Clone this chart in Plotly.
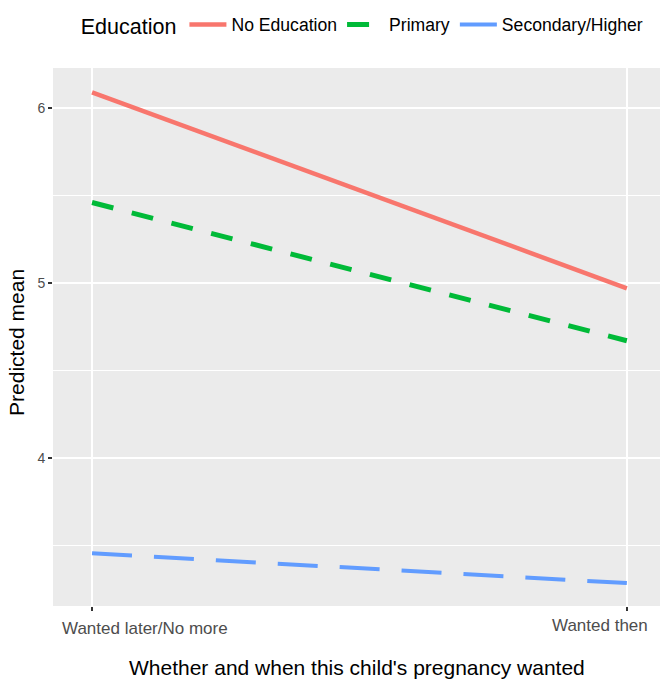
import plotly.graph_objects as go

categories = ["Wanted later/No more", "Wanted then"]
no_education = [6.09, 4.97]
primary = [5.46, 4.67]
secondary = [3.455, 3.285]
series_names = ["No Education", "Primary", "Secondary/Higher"]
y_ticks = [4, 5, 6]
y_minor = [3.5, 4.5, 5.5]
x_title = "Whether and when this child's pregnancy wanted"
y_title = "Predicted mean"
legend_title = "Education"

x_pos = list(range(len(categories)))
colors = ["#F8766D", "#00BA38", "#619CFF"]
dashes = ["solid", "22px,19px", "40px,22px"]
widths = [4.5, 5, 4]

fig = go.Figure()
for name, vals, c, d, w in zip(series_names, [no_education, primary, secondary], colors, dashes, widths):
    fig.add_trace(go.Scatter(x=x_pos, y=vals, mode="lines", name=name,
                             line=dict(color=c, dash=d, width=w)))

tick_font = dict(family="Liberation Sans, Arial, sans-serif", size=17, color="#4D4D4D")
# x tick labels as annotations (reference places them offset from ticks)
fig.add_annotation(x=-0.06, y=-0.042, xref="x", yref="paper", text=categories[0],
                   showarrow=False, xanchor="left", yanchor="middle", font=tick_font)
fig.add_annotation(x=1.043, y=-0.037, xref="x", yref="paper", text=categories[1],
                   showarrow=False, xanchor="right", yanchor="middle", font=tick_font)
fig.add_annotation(x=0.5, y=-0.115, xref="paper", yref="paper", text=x_title,
                   showarrow=False, xanchor="center", yanchor="middle",
                   font=dict(size=21, color="black"))
fig.add_annotation(x=-0.06, y=0.49, xref="paper", yref="paper", text=y_title,
                   showarrow=False, xanchor="center", yanchor="middle", textangle=-90,
                   font=dict(size=21, color="black"))

fig.update_layout(
    width=662, height=686,
    margin=dict(l=53, r=2, t=68, b=80),
    paper_bgcolor="white",
    plot_bgcolor="#EBEBEB",
    font=dict(family="Liberation Sans, Arial, sans-serif", color="black"),
    showlegend=True,
    legend=dict(orientation="h", x=0.512, xanchor="center", y=1.079, yanchor="middle",
                title=dict(text=legend_title, font=dict(size=21.5, color="black")),
                font=dict(size=17.6, color="black"), bgcolor="rgba(0,0,0,0)",
                itemwidth=37),
    xaxis=dict(range=[-0.073, 1.062], tickvals=x_pos, ticktext=["", ""],
               showgrid=True, gridcolor="white", gridwidth=2, zeroline=False,
               ticks="outside", ticklen=4, tickcolor="#333333", tickwidth=1.5,
               automargin=False),
    yaxis=dict(range=[3.154, 6.229], tickvals=y_ticks,
               showgrid=True, gridcolor="white", gridwidth=2, zeroline=False,
               minor=dict(tickvals=y_minor, showgrid=True, gridcolor="white", gridwidth=1),
               ticks="outside", ticklen=4, tickcolor="#333333", tickwidth=1.5,
               tickfont=dict(size=14, color="#4D4D4D"), automargin=False),
)

fig.write_html("out.html", config={"displayModeBar": False})

# remove default browser body margin so the figure fills the window exactly
with open("out.html", "r", encoding="utf-8") as f:
    html = f.read()
html = html.replace("<head>", "<head><style>html,body{margin:0;padding:0;overflow:hidden;}</style>", 1)
with open("out.html", "w", encoding="utf-8") as f:
    f.write(html)
